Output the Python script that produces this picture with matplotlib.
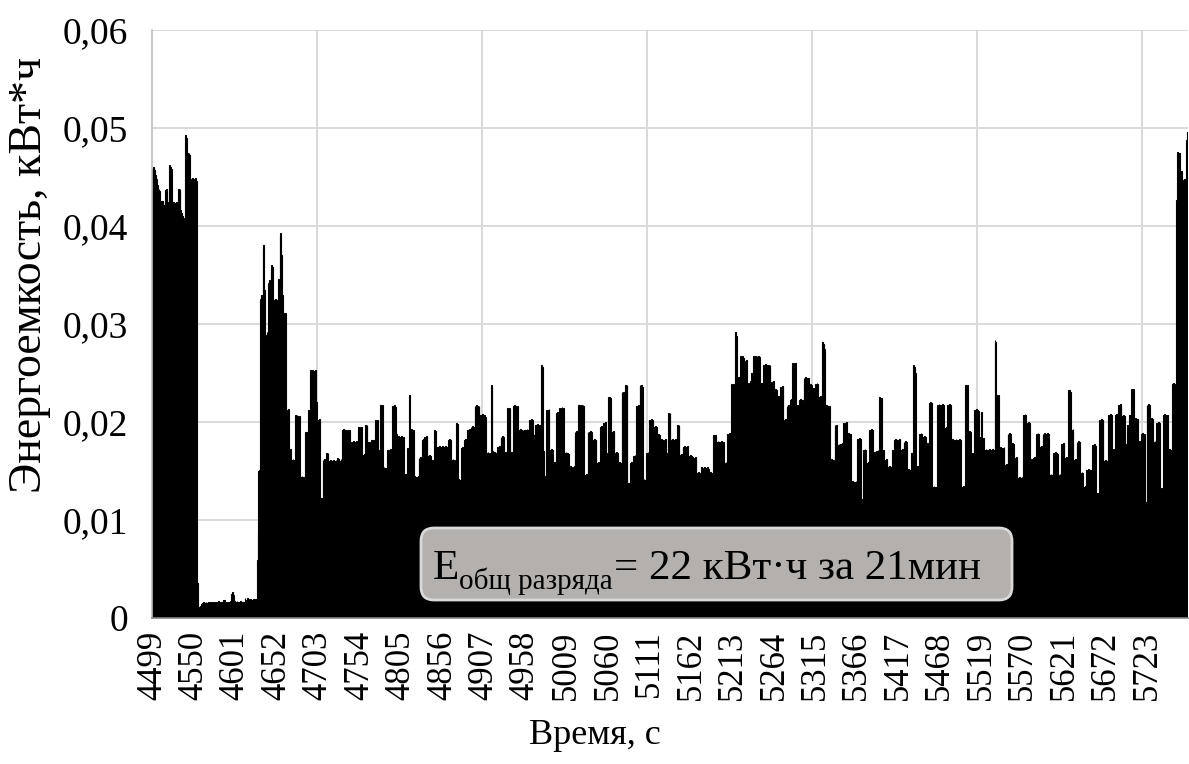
import numpy as np
import matplotlib
matplotlib.use("Agg")
import matplotlib.pyplot as plt
from matplotlib.ticker import FixedLocator, MultipleLocator, FuncFormatter
from matplotlib.patches import FancyBboxPatch
from matplotlib.transforms import IdentityTransform

plt.rcParams['font.family'] = ['Liberation Serif', 'DejaVu Serif']

start_time = 4499          # first second of the record
label_step = 51            # one axis label every 51 s
grid_step = 203            # vertical grid spacing, s

# Energy per second, Wh, one list per 51-second span (start second in the name)
e_4499 = [45.8, 46.0, 46.0, 45.7, 45.2, 44.8, 44.2, 43.7, 43.8, 43.6, 42.6, 42.5, 42.6, 42.4, 42.1, 42.0, 43.7,
          43.8, 43.6, 42.3, 42.4, 46.2, 46.0, 45.8, 42.3, 42.2, 42.4, 42.3, 42.1, 42.3, 42.4, 42.2, 43.8, 43.7,
          43.8, 41.6, 41.3, 41.0, 40.6, 40.8, 40.7, 49.3, 49.0, 47.4, 47.3, 47.4, 47.2, 44.8, 44.7, 44.9, 44.8]
e_4550 = [44.8, 44.7, 44.9, 44.6, 3.6, 1.4, 1.1, 1.0, 1.2, 1.4, 1.5, 1.5, 1.6, 1.5, 1.5, 1.6, 1.5,
          1.5, 1.6, 1.5, 1.6, 1.6, 1.5, 1.6, 1.5, 1.6, 1.6, 1.5, 1.6, 1.5, 1.7, 1.6, 1.5, 1.6,
          1.6, 1.5, 1.8, 1.7, 1.8, 1.6, 1.5, 1.6, 1.6, 1.5, 1.6, 1.7, 2.4, 2.6, 2.7, 2.3, 1.7]
e_4601 = [1.6, 1.5, 1.7, 1.6, 1.5, 1.6, 1.7, 1.6, 1.6, 1.5, 1.6, 1.6, 2.0, 1.7, 1.8, 2.0, 1.9,
          1.7, 1.8, 1.9, 1.8, 1.8, 1.9, 1.8, 1.9, 1.8, 1.9, 5.9, 8.8, 15.0, 15.1, 32.6, 33.0, 32.8,
          37.6, 38.1, 33.5, 28.7, 28.9, 29.2, 28.7, 34.2, 34.5, 34.0, 35.5, 36.0, 35.8, 32.4, 32.2, 32.6, 32.4]
e_4652 = [32.4, 32.0, 34.6, 32.3, 39.0, 39.3, 37.0, 33.0, 31.1, 31.0, 30.8, 31.1, 21.2, 21.0, 21.3, 17.1, 17.0,
          17.2, 16.1, 16.0, 16.2, 16.1, 15.9, 20.7, 20.5, 20.7, 20.6, 20.4, 20.6, 14.4, 14.3, 14.5, 14.4, 14.2,
          14.4, 19.0, 18.8, 19.0, 18.9, 21.2, 21.0, 21.1, 25.3, 25.1, 25.3, 25.2, 25.0, 25.2, 25.3, 22.0, 20.2]
e_4703 = [20.2, 20.0, 20.3, 12.0, 12.2, 11.9, 16.1, 16.0, 16.2, 16.1, 16.8, 16.7, 16.8, 16.0, 15.9, 16.1, 16.0,
          15.8, 16.0, 16.1, 16.0, 15.9, 16.1, 16.0, 16.3, 16.2, 13.4, 16.0, 16.2, 16.1, 19.2, 19.3, 19.2, 19.1,
          19.2, 19.0, 19.2, 18.8, 19.1, 19.2, 18.0, 13.4, 18.0, 18.1, 18.0, 17.9, 18.0, 18.1, 18.0, 17.8, 19.5]
e_4754 = [19.5, 19.4, 19.5, 16.6, 16.6, 16.5, 16.7, 19.7, 19.6, 19.7, 18.0, 18.0, 17.9, 18.0, 13.7, 18.2, 18.2,
          18.1, 18.2, 18.0, 20.2, 20.1, 20.2, 17.0, 17.1, 16.9, 21.7, 21.6, 21.7, 15.3, 15.4, 15.3, 15.2, 15.3,
          17.1, 17.0, 17.1, 16.9, 17.2, 17.1, 21.6, 21.5, 21.6, 21.7, 21.5, 18.8, 18.7, 18.5, 18.6, 18.5, 18.4]
e_4805 = [18.5, 18.6, 18.4, 18.5, 14.6, 14.7, 14.6, 14.5, 17.3, 17.2, 22.8, 17.3, 19.2, 19.3, 19.1, 19.2, 14.4,
          14.5, 14.3, 14.4, 14.4, 14.5, 16.3, 16.2, 16.4, 16.3, 18.2, 18.1, 18.3, 18.5, 18.4, 18.6, 18.5, 16.5,
          16.4, 16.6, 16.5, 16.0, 15.9, 16.1, 16.0, 19.2, 19.1, 16.8, 17.5, 17.5, 17.4, 17.6, 17.5, 17.5, 17.4]
e_4856 = [17.6, 17.5, 17.4, 17.5, 17.6, 17.5, 17.4, 18.2, 18.1, 18.3, 18.2, 16.1, 16.0, 16.2, 16.1, 16.0, 16.1,
          19.9, 19.8, 14.1, 14.2, 14.0, 14.1, 17.3, 17.2, 17.4, 17.3, 18.2, 18.3, 18.1, 18.2, 19.2, 19.1, 19.3,
          19.2, 19.5, 19.4, 19.6, 19.5, 19.5, 21.6, 21.5, 21.7, 21.6, 21.5, 21.6, 15.1, 20.7, 20.6, 20.8, 20.7]
e_4907 = [20.6, 20.7, 20.5, 16.8, 16.7, 16.9, 16.8, 16.7, 16.8, 23.8, 23.6, 17.0, 16.8, 16.9, 16.8, 16.7, 16.8,
          17.5, 17.4, 17.6, 17.5, 18.5, 18.4, 18.6, 18.5, 16.8, 16.7, 16.9, 16.8, 21.4, 21.3, 21.4, 21.2, 16.8,
          16.9, 16.8, 21.6, 21.5, 21.7, 21.6, 18.8, 21.6, 19.2, 19.1, 19.2, 19.3, 19.2, 19.1, 19.2, 13.6, 19.2]
e_4958 = [19.2, 19.1, 19.3, 19.2, 19.2, 20.2, 20.1, 20.2, 20.3, 20.2, 18.7, 18.7, 19.7, 19.6, 19.7, 19.8, 19.7,
          19.6, 19.7, 19.7, 25.8, 25.6, 17.0, 14.4, 14.3, 14.5, 21.2, 21.1, 21.2, 21.3, 17.1, 17.0, 17.2, 17.1,
          15.8, 15.7, 15.9, 15.8, 20.9, 20.8, 21.0, 20.9, 21.4, 21.3, 21.4, 21.5, 21.3, 21.4, 16.8, 16.7, 16.9]
e_5009 = [16.8, 16.8, 16.7, 15.4, 15.3, 15.5, 15.4, 15.3, 15.4, 15.5, 19.0, 18.9, 19.1, 19.0, 21.7, 21.6, 21.7,
          21.5, 21.7, 21.6, 21.7, 21.6, 14.6, 14.5, 14.7, 14.6, 19.0, 18.9, 19.0, 19.1, 19.0, 16.8, 18.2, 18.1,
          18.3, 18.2, 18.2, 15.8, 15.7, 15.9, 15.8, 19.5, 19.4, 19.6, 19.5, 19.9, 19.8, 19.9, 20.0, 16.8, 16.7]
e_5060 = [22.6, 22.5, 22.6, 22.4, 19.0, 18.9, 19.1, 19.0, 16.8, 16.7, 16.9, 16.8, 15.8, 15.7, 15.9, 12.4, 15.8,
          23.1, 23.0, 23.1, 17.0, 23.8, 23.7, 23.8, 13.7, 13.8, 13.6, 15.8, 15.7, 15.9, 15.8, 16.5, 16.4, 16.6,
          16.5, 21.6, 21.5, 21.7, 21.6, 23.8, 23.7, 23.8, 23.6, 14.1, 14.2, 14.0, 14.1, 16.8, 16.7, 16.9, 16.8]
e_5111 = [20.2, 20.1, 20.3, 20.2, 20.1, 19.5, 19.4, 19.6, 19.5, 18.7, 18.6, 18.8, 18.7, 18.2, 18.1, 18.3, 18.2,
          18.2, 18.1, 18.3, 18.2, 16.8, 16.7, 20.9, 20.8, 20.9, 18.2, 18.1, 18.3, 18.2, 18.2, 18.1, 18.3, 18.2,
          19.7, 19.6, 19.7, 16.6, 16.5, 16.7, 16.6, 17.5, 17.4, 17.6, 17.5, 17.5, 17.4, 17.6, 16.5, 16.4, 16.6]
e_5162 = [16.5, 16.5, 16.4, 16.3, 16.2, 16.4, 16.3, 14.8, 14.7, 14.9, 14.8, 10.3, 10.4, 15.4, 15.3, 15.2, 15.4,
          15.3, 15.2, 15.3, 15.4, 15.2, 14.8, 14.7, 14.9, 14.8, 14.7, 14.8, 18.7, 18.6, 18.7, 18.0, 17.9, 18.1,
          18.0, 18.0, 17.9, 18.1, 18.0, 17.9, 18.0, 15.8, 15.7, 15.9, 15.8, 18.8, 18.7, 18.9, 18.8, 18.8, 23.9]
e_5213 = [23.8, 23.9, 23.7, 23.9, 29.2, 28.8, 24.6, 24.5, 17.5, 24.6, 26.7, 26.6, 26.7, 26.5, 26.3, 26.2, 18.0,
          26.3, 23.9, 23.8, 24.0, 23.9, 24.2, 25.0, 24.5, 24.8, 26.7, 26.6, 26.7, 26.5, 26.7, 26.6, 26.7, 26.6,
          23.9, 23.8, 24.0, 23.9, 25.8, 25.7, 25.8, 25.9, 25.8, 25.7, 25.8, 25.6, 25.8, 24.1, 24.0, 24.1, 24.2]
e_5264 = [23.3, 23.2, 23.4, 23.3, 22.6, 22.5, 22.7, 22.6, 23.6, 23.5, 23.7, 23.6, 20.2, 20.1, 20.3, 20.2, 21.6,
          21.5, 21.7, 21.6, 22.2, 22.1, 22.3, 26.0, 25.9, 26.0, 26.0, 21.6, 21.5, 21.7, 21.6, 22.2, 22.1, 22.3,
          22.2, 22.2, 21.6, 24.5, 24.4, 24.6, 24.5, 24.4, 24.5, 23.8, 23.7, 23.9, 23.8, 23.4, 23.3, 23.5, 23.4]
e_5315 = [23.9, 23.8, 24.0, 23.9, 22.6, 22.5, 22.7, 22.6, 22.6, 28.2, 28.0, 27.5, 21.6, 21.5, 21.7, 21.6, 21.5,
          21.6, 16.1, 16.0, 16.2, 16.1, 16.0, 16.1, 19.7, 19.6, 19.7, 17.7, 17.6, 17.8, 17.7, 17.8, 17.7, 17.9,
          17.8, 19.9, 19.8, 19.9, 20.0, 18.8, 18.7, 18.9, 18.8, 18.8, 13.9, 13.8, 14.0, 13.9, 13.9, 13.8, 14.0]
e_5366 = [13.9, 18.3, 18.2, 18.4, 18.3, 12.0, 12.1, 11.9, 17.1, 17.0, 17.2, 17.1, 15.8, 15.7, 15.9, 15.8, 19.2,
          19.1, 19.3, 19.2, 16.8, 16.7, 16.9, 16.8, 17.0, 16.9, 17.1, 17.0, 22.6, 22.5, 22.4, 17.0, 16.9, 17.1,
          16.1, 16.0, 16.2, 16.1, 15.4, 15.3, 15.5, 15.4, 15.3, 15.4, 17.1, 17.0, 18.2, 18.1, 18.3, 18.2, 18.2]
e_5417 = [18.1, 18.3, 18.2, 17.1, 17.0, 17.2, 17.1, 18.0, 17.9, 18.1, 18.0, 15.1, 15.0, 15.2, 15.1, 15.0, 16.8,
          16.7, 16.9, 25.8, 25.6, 25.0, 15.4, 15.3, 15.5, 15.4, 18.8, 18.7, 18.9, 18.8, 18.5, 18.4, 18.6, 18.5,
          17.8, 17.7, 17.9, 17.8, 21.9, 21.8, 22.0, 21.9, 13.4, 13.3, 13.5, 10.7, 13.4, 13.4, 21.7, 21.6, 21.8]
e_5468 = [21.7, 21.6, 21.7, 21.8, 21.6, 21.7, 19.4, 19.3, 19.5, 19.4, 21.7, 21.6, 21.8, 21.7, 18.2, 18.1, 18.3,
          18.2, 18.2, 18.1, 18.3, 18.2, 18.2, 18.1, 18.3, 18.2, 18.2, 13.4, 13.3, 13.5, 12.3, 13.4, 23.8, 23.7,
          23.8, 19.0, 18.9, 19.1, 19.0, 16.8, 16.7, 14.8, 16.8, 21.2, 21.1, 21.3, 21.2, 21.2, 21.1, 18.5, 18.4]
e_5519 = [21.0, 18.3, 18.2, 18.4, 17.1, 17.0, 17.2, 17.1, 17.1, 17.0, 17.2, 17.1, 17.1, 17.0, 17.2, 17.1, 17.1,
          28.4, 28.2, 22.8, 22.7, 22.8, 17.3, 17.2, 17.4, 17.3, 17.3, 17.2, 17.4, 15.6, 15.5, 15.7, 15.6, 18.8,
          18.7, 18.9, 18.8, 17.8, 17.7, 17.9, 17.8, 16.3, 16.2, 16.4, 16.3, 14.3, 14.2, 14.4, 14.3, 14.3, 14.2]
e_5570 = [14.4, 20.7, 20.6, 20.8, 20.7, 19.9, 19.8, 20.0, 19.9, 16.1, 16.0, 16.2, 16.1, 16.3, 16.2, 16.4, 16.3,
          18.8, 18.7, 18.9, 18.8, 17.5, 17.4, 17.6, 17.5, 18.8, 18.7, 18.9, 18.8, 18.8, 18.7, 18.9, 18.8, 14.6,
          14.5, 14.7, 14.6, 14.6, 16.8, 16.7, 16.9, 16.8, 16.8, 16.7, 14.6, 14.5, 14.7, 14.6, 17.8, 17.7, 17.9]
e_5621 = [17.8, 16.3, 16.2, 16.4, 16.3, 23.3, 23.2, 23.3, 23.1, 19.2, 19.1, 19.3, 16.1, 16.0, 16.2, 16.1, 18.0,
          17.9, 18.1, 18.0, 14.8, 14.7, 14.9, 14.8, 13.4, 13.3, 13.5, 13.4, 15.1, 15.0, 15.2, 15.1, 15.0, 15.1,
          13.1, 17.7, 17.6, 17.8, 17.7, 17.6, 12.7, 12.8, 12.6, 12.7, 20.2, 20.1, 20.3, 20.2, 20.2, 16.0, 15.9]
e_5672 = [16.1, 16.0, 15.9, 16.0, 20.7, 20.6, 20.8, 20.7, 17.1, 17.0, 17.2, 17.1, 20.7, 20.6, 20.8, 20.7, 21.7,
          21.6, 21.8, 21.7, 20.6, 20.5, 20.7, 20.6, 17.7, 17.6, 17.8, 19.7, 19.6, 19.8, 20.7, 20.6, 23.4, 23.3,
          23.4, 20.3, 20.2, 20.4, 20.3, 20.3, 18.0, 17.9, 18.1, 18.0, 18.8, 18.7, 18.9, 18.8, 18.8, 11.7, 11.8]
e_5723 = [21.7, 21.6, 21.8, 21.7, 20.3, 20.2, 20.4, 20.3, 18.0, 17.9, 18.1, 18.0, 19.9, 19.8, 20.0, 19.9, 13.2,
          13.1, 13.3, 13.2, 20.7, 20.6, 20.8, 20.7, 20.6, 20.7, 17.1, 17.0, 17.2, 17.1, 17.0, 23.9, 23.8, 24.0,
          23.9, 23.8, 42.7, 42.5, 47.6, 47.4, 47.5, 45.5, 45.4, 45.6, 44.7, 44.6, 44.8, 44.7, 44.6, 48.8, 49.6]

spans = [e_4499, e_4550, e_4601, e_4652, e_4703, e_4754, e_4805, e_4856, e_4907, e_4958, e_5009,
         e_5060, e_5111, e_5162, e_5213, e_5264, e_5315, e_5366, e_5417, e_5468, e_5519, e_5570,
         e_5621, e_5672, e_5723]

energy_kwh = np.concatenate([np.asarray(s, dtype=float) for s in spans]) / 1000.0
n = len(energy_kwh)
pos = np.arange(n)
seconds = start_time + pos

W, H = 1189, 764
fig = plt.figure(figsize=(W / 100, H / 100), dpi=100)
ax = fig.add_axes([152 / W, 146 / H, 1036 / W, 588 / H])

ax.bar(pos, energy_kwh, width=1.0, color='black', edgecolor='black', linewidth=0.8, zorder=2)

ax.set_xlim(-0.5, n - 0.5)
ax.set_ylim(0, 0.06)
ax.yaxis.set_major_locator(MultipleLocator(0.01))
ax.yaxis.set_major_formatter(FuncFormatter(
    lambda v, p: '0' if abs(v) < 1e-12 else f'{v:.2f}'.replace('.', ',')))

ax.set_xticks(pos[::label_step])
ax.set_xticklabels([str(s) for s in seconds[::label_step]], rotation=90)
ax.xaxis.set_minor_locator(FixedLocator(np.arange(grid_step, n, grid_step) - 0.5))

ax.set_axisbelow(True)
ax.grid(axis='y', which='major', color='#d9d9d9', lw=1.4, zorder=0)
ax.grid(axis='x', which='minor', color='#d9d9d9', lw=1.4, zorder=0)
ax.tick_params(which='both', length=0)
ax.tick_params(axis='y', labelsize=27, pad=17)
ax.tick_params(axis='x', labelsize=25, pad=9)
for side in ('top', 'right'):
    ax.spines[side].set_visible(False)
ax.spines['left'].set_color('#bfbfbf')
ax.spines['left'].set_linewidth(1.2)
ax.spines['bottom'].set_color('#868686')
ax.spines['bottom'].set_linewidth(1.2)

fig.text(30 / W, 1 - 275 / H, 'Энергоемкость, кВт*ч', rotation=90,
         ha='center', va='center', fontsize=33)
fig.text(0.5, 1 - 736 / H, 'Время, с', ha='center', va='center', fontsize=26)

# Summary box over the bars: "E" with a subscript, then the rest of the line
box = FancyBboxPatch((421, H - 600), 591, 72, boxstyle='round,pad=0,rounding_size=13',
                     transform=IdentityTransform(), facecolor='#b3b0ae', edgecolor='#d9d9d9',
                     linewidth=2, zorder=5)
fig.patches.append(box)

main_size = 31
sub_size = 21
baseline_px = H - 579
sub_drop_px = 10
px = IdentityTransform()
renderer = fig.canvas.get_renderer()

t_e = fig.text(433, baseline_px, 'E', fontsize=main_size, ha='left', va='baseline',
               transform=px, zorder=6)
x_next = t_e.get_window_extent(renderer).x1
t_sub = fig.text(x_next, baseline_px - sub_drop_px, 'общ разряда', fontsize=sub_size,
                 ha='left', va='baseline', transform=px, zorder=6)
x_next = t_sub.get_window_extent(renderer).x1
fig.text(x_next + 1, baseline_px, '= 22 кВт·ч за 21мин', fontsize=main_size,
         ha='left', va='baseline', transform=px, zorder=6)

fig.savefig('out.png', dpi=100)
